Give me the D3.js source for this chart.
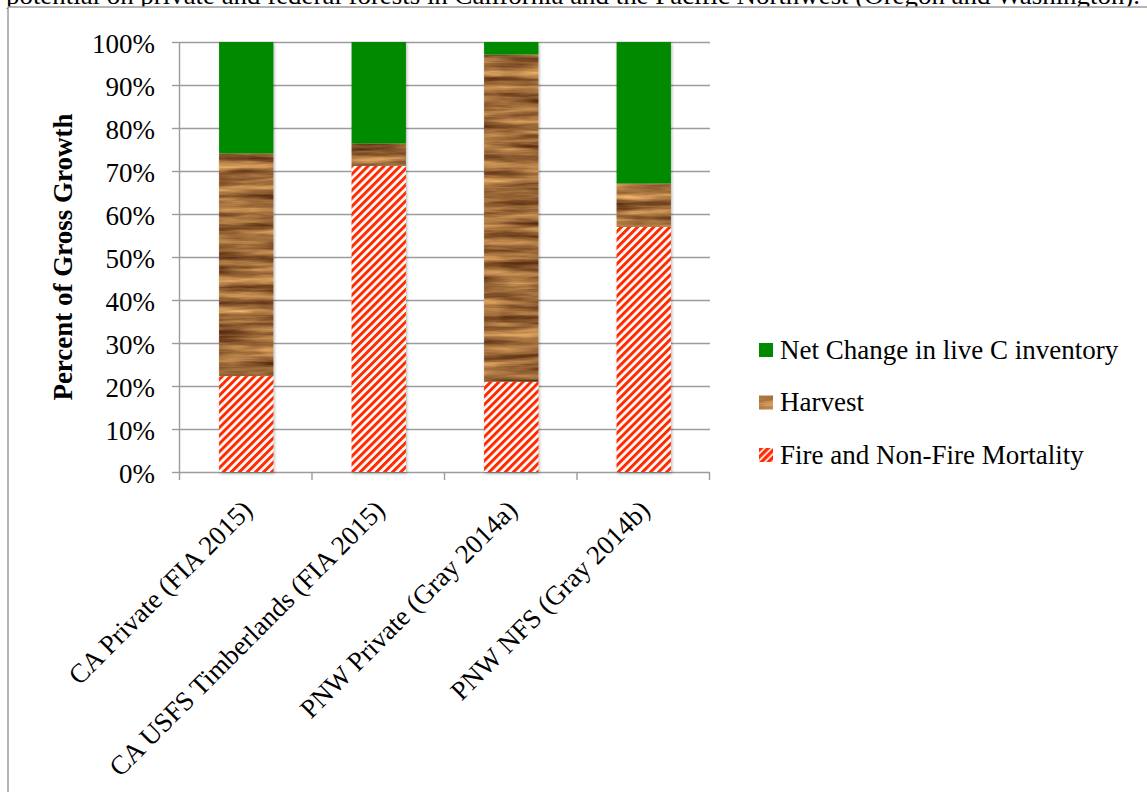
<!DOCTYPE html>
<html>
<head>
<meta charset="utf-8">
<script src="https://cdn.jsdelivr.net/npm/d3@7"></script>
<style>
  html, body { margin: 0; padding: 0; background: #fff; }
  svg { display: block; }
  text { font-family: "Liberation Serif", "Times New Roman", serif; fill: #000; }
</style>
</head>
<body>
<svg id="chart" width="1147" height="792"></svg>
<script>
// Share of gross growth taken by each fate, per ownership / source
const categories = [
  "CA Private (FIA 2015)",
  "CA USFS Timberlands (FIA 2015)",
  "PNW Private (Gray 2014a)",
  "PNW NFS (Gray 2014b)"
];
const mortality = [22.3, 71.2, 21.0, 57.0];   // Fire and Non-Fire Mortality (%)
const harvest   = [51.8,  5.2, 76.1, 10.1];   // Harvest (%)
const netChange = [25.9, 23.6,  2.9, 32.9];   // Net Change in live C inventory (%)
const seriesNames = ["Fire and Non-Fire Mortality", "Harvest", "Net Change in live C inventory"];
const yTicks = [0, 10, 20, 30, 40, 50, 60, 70, 80, 90, 100];
const captionLine = "potential on private and federal forests in California and the Pacific Northwest (Oregon and Washington).";

const svg = d3.select("#chart");
const W = 1147, H = 792;
const plot = { left: 180, right: 710, top: 42, bottom: 472 };
const FONT = 27;
const GRID = "#9c9c9c";

const defs = svg.append("defs");

// red / white diagonal hatch
const hatch = defs.append("pattern")
  .attr("id", "hatch").attr("patternUnits", "userSpaceOnUse")
  .attr("width", 5.7).attr("height", 5.7)
  .attr("patternTransform", "rotate(45)");
hatch.append("rect").attr("width", 5.7).attr("height", 5.7).attr("fill", "#fff");
hatch.append("rect").attr("width", 3.0).attr("height", 5.7).attr("fill", "#ff2a00");

const hatchBig = defs.append("pattern")
  .attr("id", "hatchBig").attr("patternUnits", "userSpaceOnUse")
  .attr("width", 5).attr("height", 5)
  .attr("patternTransform", "rotate(45)");
hatchBig.append("rect").attr("width", 5).attr("height", 5).attr("fill", "#fff");
hatchBig.append("rect").attr("width", 3.4).attr("height", 5).attr("fill", "#ff2a00");

// wood grain texture: stretched noise mapped onto warm brown tones
const wood = defs.append("filter").attr("id", "wood")
  .attr("x", 0).attr("y", 0).attr("width", 1).attr("height", 1)
  .attr("color-interpolation-filters", "sRGB");
wood.append("feTurbulence").attr("type", "fractalNoise")
  .attr("baseFrequency", "0.012 0.13").attr("numOctaves", 4).attr("seed", 11).attr("result", "noise");
wood.append("feColorMatrix").attr("in", "noise").attr("type", "matrix")
  .attr("values", [
    "0.85 0 0 0 0.20",
    "0.75 0 0 0 0.05",
    "0.50 0 0 0 -0.02",
    "0 0 0 0 1"
  ].join(" ")).attr("result", "tone");
wood.append("feComposite").attr("in", "tone").attr("in2", "SourceGraphic").attr("operator", "in");

// soft shadow behind each column
const shadow = defs.append("filter").attr("id", "shadow")
  .attr("x", "-30%").attr("y", "-10%").attr("width", "160%").attr("height", "120%");
shadow.append("feDropShadow").attr("dx", 1).attr("dy", 1.5)
  .attr("stdDeviation", 1.8).attr("flood-color", "#000").attr("flood-opacity", 0.3);

// caption line of the surrounding page, mostly off the top edge
svg.append("text")
  .attr("x", 6).attr("y", 4)
  .attr("textLength", 1134).attr("lengthAdjust", "spacingAndGlyphs")
  .style("font-size", "26px")
  .text(captionLine);

// chart frame
const frame = svg.append("g");
frame.append("rect").attr("x", 8).attr("y", 7).attr("width", W).attr("height", H).attr("fill", "#fff");
frame.append("line").attr("x1", 8).attr("x2", W).attr("y1", 7).attr("y2", 7)
  .attr("stroke", GRID).attr("stroke-width", 1.5);
frame.append("line").attr("x1", 8).attr("x2", 8).attr("y1", 7).attr("y2", H)
  .attr("stroke", GRID).attr("stroke-width", 1.5);

const x = d3.scaleBand().domain(categories).range([plot.left, plot.right]).padding(0);
const y = d3.scaleLinear().domain([0, 100]).range([plot.bottom, plot.top]);
const barW = x.bandwidth() * 0.41;

// gridlines
svg.append("g").selectAll("line").data(yTicks.filter(d => d > 0)).join("line")
  .attr("x1", plot.left).attr("x2", plot.right)
  .attr("y1", d => Math.round(y(d)) + 0.5).attr("y2", d => Math.round(y(d)) + 0.5)
  .attr("stroke", GRID).attr("stroke-width", 1.4);

// y axis
const yAxis = svg.append("g").attr("transform", `translate(${plot.left},0)`)
  .call(d3.axisLeft(y).tickValues(yTicks).tickFormat(d => d + "%").tickSize(8).tickPadding(17));
yAxis.select(".domain").attr("stroke", GRID).attr("stroke-width", 1.4)
  .attr("d", `M-0.5,${plot.top}V${plot.bottom + 8}`);
yAxis.selectAll(".tick line").attr("stroke", GRID).attr("stroke-width", 1.4);
yAxis.selectAll(".tick text")
  .attr("dy", "0.4em")
  .style("font-size", FONT + "px").style("font-family", "Liberation Serif, serif");
yAxis.attr("font-family", null).attr("font-size", null);

// x axis with ticks on category boundaries
const xAxisG = svg.append("g").attr("transform", `translate(0,${plot.bottom})`);
xAxisG.append("line").attr("x1", plot.left).attr("x2", plot.right)
  .attr("y1", 0.5).attr("y2", 0.5).attr("stroke", GRID).attr("stroke-width", 1.4);
const bounds = categories.map(c => x(c)).concat([x(categories[categories.length - 1]) + x.bandwidth()]);
xAxisG.selectAll("line.tk").data(bounds.slice(1)).join("line").attr("class", "tk")
  .attr("x1", d => d - 0.5).attr("x2", d => d - 0.5).attr("y1", 0).attr("y2", 8)
  .attr("stroke", GRID).attr("stroke-width", 1.4);

// category labels at -45 degrees
svg.append("g").selectAll("text").data(categories).join("text")
  .attr("transform", d => `translate(${x(d) + x.bandwidth() / 2 + 1},${plot.bottom + 33}) rotate(-45)`)
  .attr("text-anchor", "end")
  .attr("dy", "0.35em")
  .style("font-size", FONT + "px")
  .text(d => d);

// y axis title
svg.append("text")
  .attr("transform", `translate(72,${(plot.top + plot.bottom) / 2}) rotate(-90)`)
  .attr("text-anchor", "middle")
  .style("font-size", FONT + "px").style("font-weight", "bold")
  .text("Percent of Gross Growth");

// stacked columns
const rows = categories.map((c, i) => ({ cat: c, vals: [mortality[i], harvest[i], netChange[i]] }));
const fills = ["url(#hatch)", "#9a6a3c", "#008a00"];
const cols = svg.append("g").selectAll("g").data(rows).join("g").attr("filter", "url(#shadow)");
cols.each(function (row) {
  let acc = 0;
  const g = d3.select(this);
  row.vals.forEach((v, k) => {
    const y0 = acc, y1 = acc + v;
    acc = y1;
    g.append("rect")
      .attr("x", x(row.cat) + (x.bandwidth() - barW) / 2)
      .attr("width", barW)
      .attr("y", y(y1))
      .attr("height", y(y0) - y(y1))
      .attr("fill", fills[k])
      .attr("filter", k === 1 ? "url(#wood)" : null);
  });
});

// legend
const legendItems = [
  { name: seriesNames[2], fill: "#008a00", tex: false },
  { name: seriesNames[1], fill: "#9a6a3c", tex: true },
  { name: seriesNames[0], fill: "url(#hatchBig)", tex: false }
];
const lg = svg.append("g").attr("transform", "translate(759,350)");
const li = lg.selectAll("g").data(legendItems).join("g")
  .attr("transform", (d, i) => `translate(0,${i * 52.5})`);
li.append("rect").attr("x", 0).attr("y", -7).attr("width", 14).attr("height", 14)
  .attr("fill", d => d.fill).attr("filter", d => d.tex ? "url(#wood)" : null);
li.append("text").attr("x", 21).attr("y", 0).attr("dy", "0.33em")
  .style("font-size", FONT + "px").text(d => d.name);
</script>
</body>
</html>
